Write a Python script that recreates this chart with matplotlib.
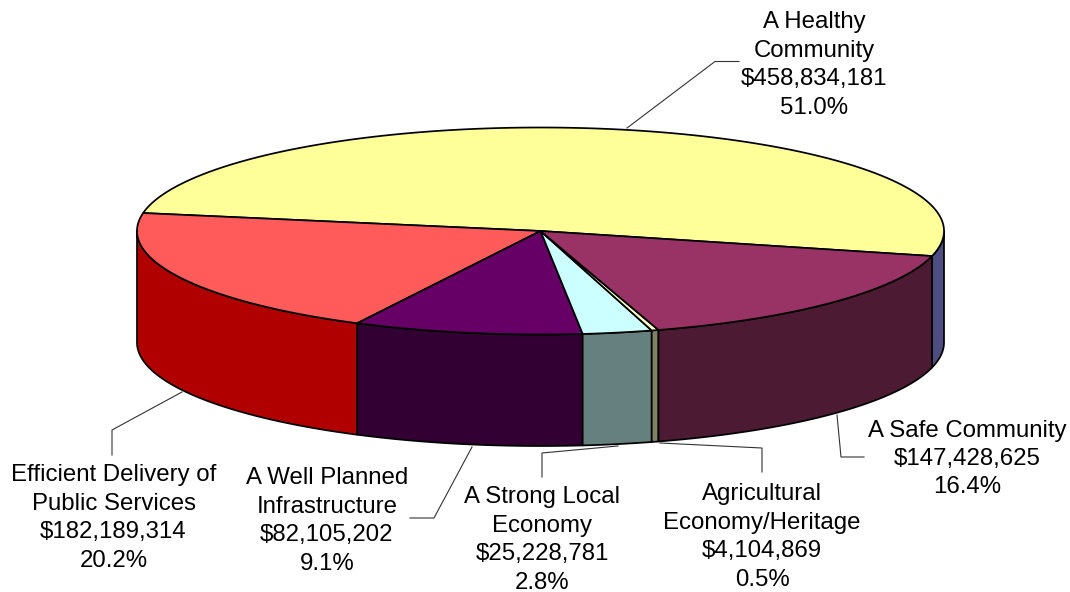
#!/usr/bin/env python3
import numpy as np
import matplotlib
matplotlib.use("Agg")
import matplotlib.pyplot as plt
from matplotlib.patches import Polygon

plt.rcParams["font.family"] = ["Liberation Sans", "DejaVu Sans"]

# slices, counter-clockwise from the right edge
names = ["A Healthy\nCommunity", "Efficient Delivery of\nPublic Services",
         "A Well Planned\nInfrastructure", "A Strong Local\nEconomy",
         "Agricultural\nEconomy/Heritage", "A Safe Community"]
dollars = [458834181, 182189314, 82105202, 25228781, 4104869, 147428625]
top_cols = ["#ffff99", "#ff5b5b", "#660066", "#ccffff", "#ffffcc", "#993366"]
side_cols = ["#4d4d80", "#b00000", "#330033", "#668080", "#808066", "#4d1a33"]

CX, CY, RX, RY, DEPTH = 540.5, 231.0, 403.5, 103.5, 111.5
START = -13.7
LBL_POS = [(814, 65), (113.5, 518), (327, 521), (542, 540), (762, 537), (967, 459)]
LEADERS = [
    [(627, 128), (715, 61.5), (739, 61.5)],
    [(182, 392), (112, 430), (112, 455)],
    [(472, 447), (434, 518), (410, 518)],
    [(618, 446), (542, 453), (542, 477)],
    [(660, 443), (762, 448), (762, 472)],
    [(837, 415), (841, 457), (864, 457)],
]
EDGE = dict(edgecolor="black", linewidth=1.25, joinstyle="round")


def rim(a, b, dy=0.0):
    t = np.radians(np.linspace(a, b, max(int(abs(b - a) * 2), 2)))
    return np.column_stack((CX + RX * np.cos(t), CY - RY * np.sin(t) + dy))


total = sum(dollars)
# the original renderer snaps slice edges to whole degrees
edges = np.round(START + np.concatenate(([0], np.cumsum(dollars) / total * 360.0)))
starts, ends = edges[:-1], edges[1:]

fig = plt.figure(figsize=(10.7, 5.92), dpi=100)
ax = fig.add_axes([0, 0, 1, 1])
ax.set_xlim(0, 1070)
ax.set_ylim(592, 0)
ax.axis("off")

# side wall: only the part of each slice on the front half of the rim
for a, b, col in zip(starts, ends, side_cols):
    for off in (-360, 0):
        lo, hi = max(a + off, -180), min(b + off, 0)
        if hi > lo:
            top = rim(lo, hi)
            bot = rim(lo, hi, DEPTH)[::-1]
            ax.add_patch(Polygon(np.vstack((top, bot)), closed=True, facecolor=col, **EDGE))

for a, b, col in zip(starts, ends, top_cols):
    ax.add_patch(Polygon(np.vstack(([(CX, CY)], rim(a, b))), closed=True, facecolor=col, **EDGE))

for pts in LEADERS:
    xs, ys = zip(*pts)
    ax.plot(xs, ys, color="#333333", lw=0.8, solid_joinstyle="miter")

for name, val, (x, y) in zip(names, dollars, LBL_POS):
    ax.text(x, y, f"{name}\n${val:,}\n{val / total:.1%}", ha="center", va="center",
            ma="center", fontsize=17.3, linespacing=1.38, color="black")

fig.savefig("out.png", dpi=100)
